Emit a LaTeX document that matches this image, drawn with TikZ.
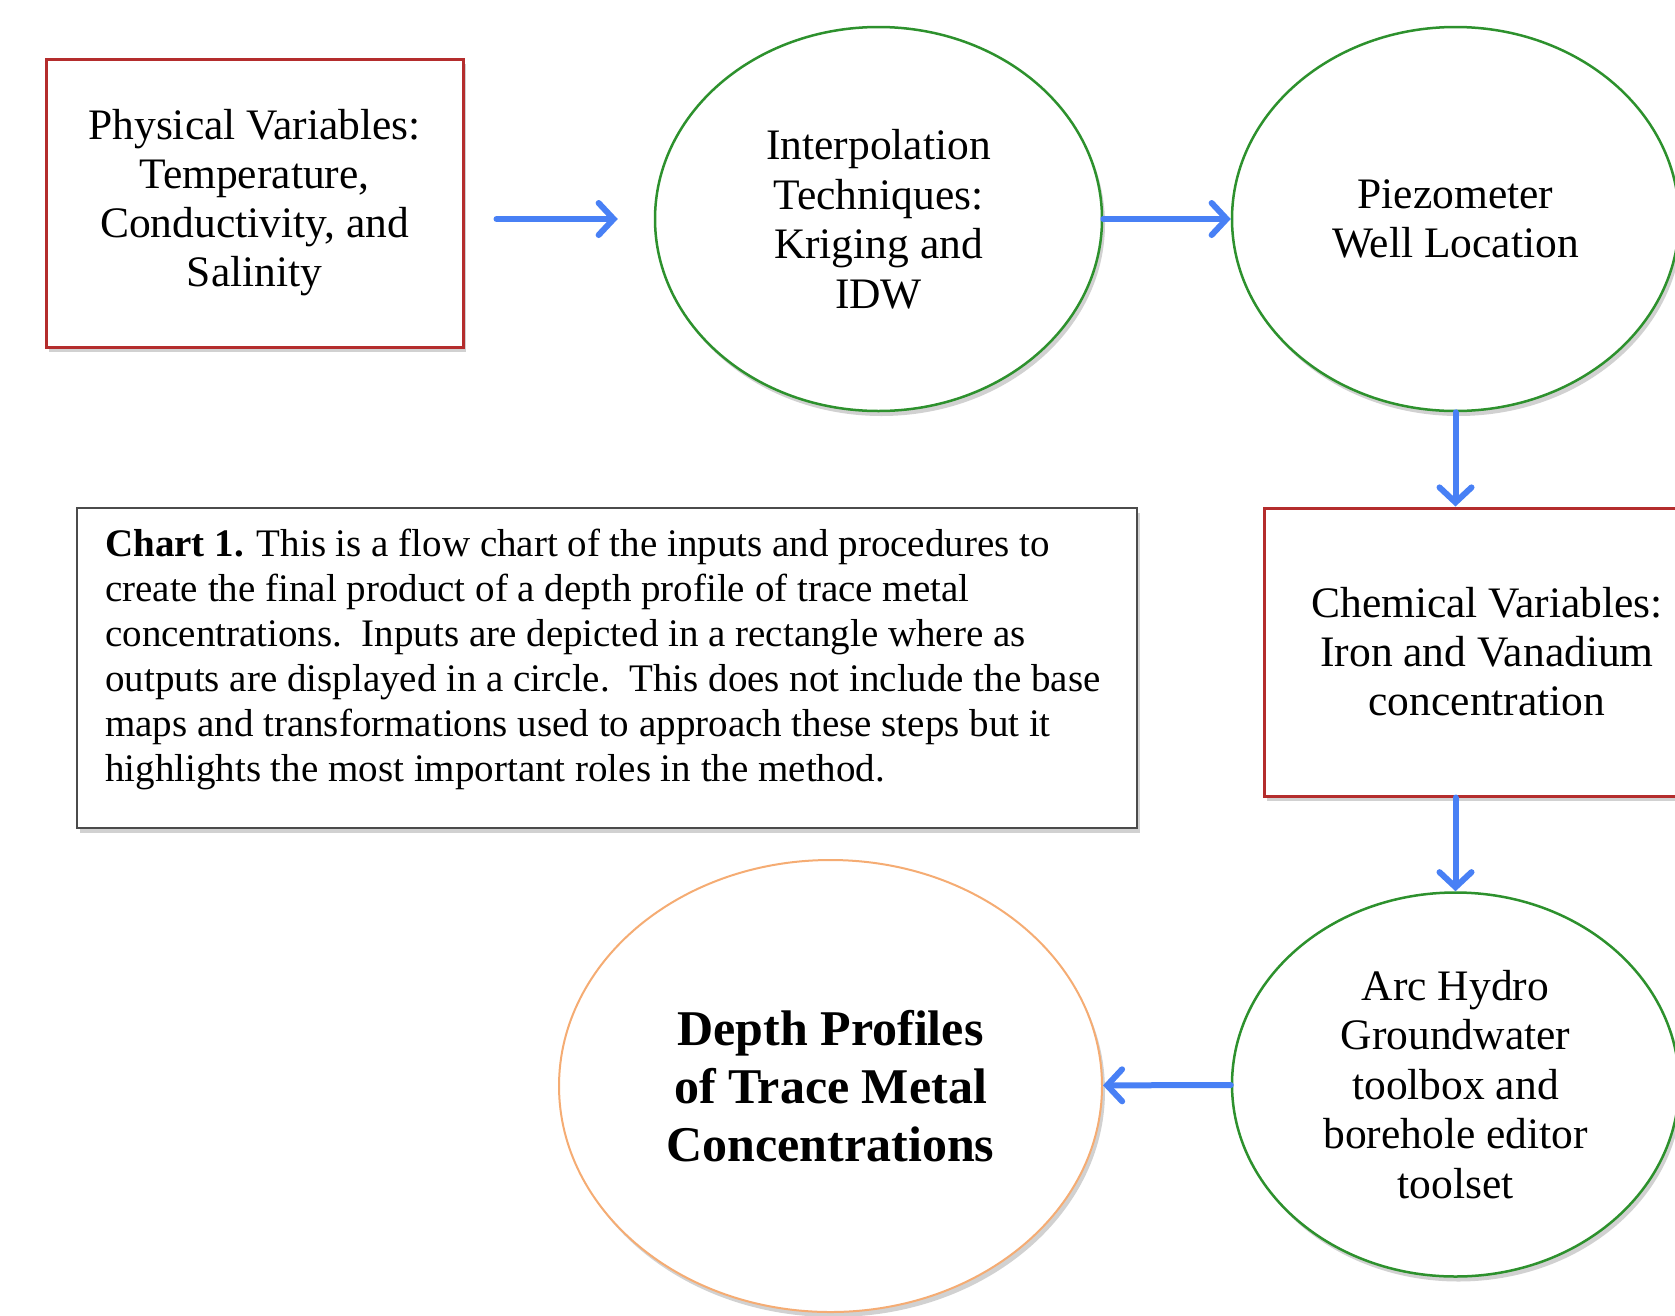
\documentclass[tikz,border=0pt]{standalone}
\usepackage{fontspec}
\setmainfont{Liberation Serif}
\usetikzlibrary{shapes.geometric, arrows.meta, shadows}

\definecolor{inred}{RGB}{180,45,45}
\definecolor{outgreen}{RGB}{45,145,45}
\definecolor{finalorange}{RGB}{245,172,115}
\definecolor{flowblue}{RGB}{72,128,245}
\definecolor{notegray}{RGB}{75,75,75}

\tikzset{
  soft/.style={drop shadow={shadow xshift=3pt, shadow yshift=-5pt, opacity=0.18, fill=black}},
  inputbox/.style={draw=inred, line width=3pt, fill=white, soft, align=center,
    font={\fontsize{43.5}{49}\selectfont}},
  outcircle/.style={ellipse, draw=outgreen, line width=2.5pt, fill=white, soft, align=center,
    inner sep=0pt, minimum width=447pt, minimum height=384pt,
    font={\fontsize{43.5}{49.5}\selectfont}},
  flow/.style={draw=flowblue, line width=6pt, line cap=round,
    -{Straight Barb[length=15pt, width=32pt, line cap=round]}},
}

\begin{document}
\begin{tikzpicture}[x=1pt, y=-1pt]
    \useasboundingbox (0, 0) rectangle (1675, 1315);
    \node [inputbox, minimum width=417pt, minimum height=288pt] (0) at (254.5, 203) {Physical Variables:\\Temperature,\\Conductivity, and\\Salinity};
    \node [outcircle] (1) at (878.5, 219) {Interpolation\\Techniques:\\Kriging and\\IDW};
    \node [outcircle] (2) at (1455.5, 219) {Piezometer\\Well Location};
    \node [inputbox, minimum width=446pt, minimum height=288pt] (3) at (1487, 652) {Chemical Variables:\\Iron and Vanadium\\concentration};
    \node [outcircle] (4) at (1455.5, 1084.5) {Arc Hydro\\Groundwater\\toolbox and\\borehole editor\\toolset};
    \node [ellipse, draw=finalorange, line width=2pt, fill=white, soft, align=center, inner sep=0pt,
      minimum width=543pt, minimum height=452pt, font={\bfseries\fontsize{50}{58}\selectfont}] (5) at (830.5, 1086) {Depth Profiles\\of Trace Metal\\Concentrations};
    \node [draw=notegray, line width=2.5pt, fill=white, soft, minimum width=1060pt, minimum height=320pt] (6) at (607, 668) {};
    \node [anchor=north west, inner sep=0pt, align=left, font={\fontsize{39}{45}\selectfont}] (7) at (105, 529) {\textbf{Chart 1.} This is a flow chart of the inputs and procedures to\\create the final product of a depth profile of trace metal\\concentrations.\ \ Inputs are depicted in a rectangle where as\\outputs are displayed in a circle.\ \ This does not include the base\\maps and transformations used to approach these steps but it\\highlights the most important roles in the method.};
    \draw [flow, shorten <=32pt, shorten >=36pt] (0.east |- 1.west) to (1.west);
    \draw [flow] (1) to (2);
    \draw [flow] (2.south) to (2.south |- 3.north);
    \draw [flow] (3.south -| 4.north) to (4.north);
    \draw [flow] (4) to (5);
  \end{tikzpicture}
\end{document}
